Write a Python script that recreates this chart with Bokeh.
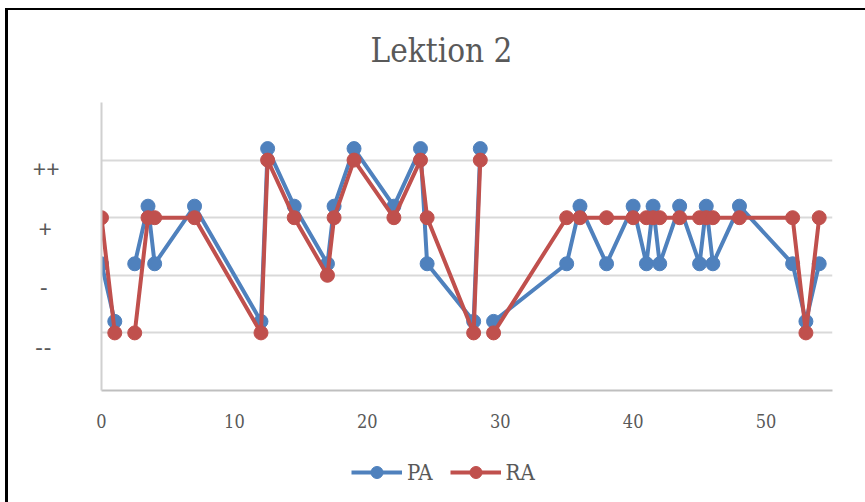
import math
from bokeh.plotting import figure
from bokeh.layouts import column
from bokeh.models import FixedTicker, Legend, LegendItem, ColumnDataSource
from bokeh.embed import file_html
from bokeh.resources import INLINE

NAN = float("nan")

# time positions (NaN rows mark missing observations -> gaps in the lines)
x_vals = [0, 1, 2, 2.5, 3.5, 4, 7, 12, 12.5, 14.5, 17, 17.5, 19, 22, 24, 24.5, 28, 28.5, 29,
          29.5, 35, 36, 38, 40, 41, 41.5, 42, 43.5, 45, 45.5, 46, 48, 52, 53, 54]
pa_vals = [2.2, 1.2, NAN, 2.2, 3.2, 2.2, 3.2, 1.2, 4.2, 3.2, 2.2, 3.2, 4.2, 3.2, 4.2, 2.2, 1.2, 4.2, NAN,
           1.2, 2.2, 3.2, 2.2, 3.2, 2.2, 3.2, 2.2, 3.2, 2.2, 3.2, 2.2, 3.2, 2.2, 1.2, 2.2]
ra_vals = [3, 1, NAN, 1, 3, 3, 3, 1, 4, 3, 2, 3, 4, 3, 4, 3, 1, 4, NAN,
           1, 3, 3, 3, 3, 3, 3, 3, 3, 3, 3, 3, 3, 3, 1, 3]

x_ticks = [0, 10, 20, 30, 40, 50]
y_label_pos = [3.87, 2.82, 1.80, 0.75]
y_labels = ["++", "+\u2006\u2006", "-\u2002", "--\u2006\u2006"]
grid_levels = [1, 2, 3, 4, 5]
series_names = ["PA", "RA"]

BLUE = "#4F81BD"
RED = "#C0504D"
SERIF = '"DejaVu Serif Condensed", "Liberation Serif", serif'
GREY_TEXT = "#595959"

src = ColumnDataSource(dict(x=x_vals, pa=pa_vals, ra=ra_vals))

p = figure(width=857, height=444, x_range=(0, 55), y_range=(0, 5),
           output_backend="svg", toolbar_location=None,
           min_border_left=93, min_border_right=33, min_border_top=106, min_border_bottom=50)
p.margin = (-14, 0, 0, 0)
p.outline_line_color = None
p.border_fill_color = None

p.title.text = "Lektion 2"
p.title.align = "left"
p.title.offset = 269
p.title.text_font = SERIF
p.title.text_font_size = "33px"
p.title.text_font_style = "normal"
p.title.text_color = GREY_TEXT
p.title.standoff = 65

p.line("x", "pa", source=src, line_color=BLUE, line_width=4)
p.scatter("x", "pa", source=src, size=14, fill_color=BLUE, line_color=BLUE)
p.line("x", "ra", source=src, line_color=RED, line_width=4)
p.scatter("x", "ra", source=src, size=14, fill_color=RED, line_color=RED)

# x axis
p.xaxis.ticker = FixedTicker(ticks=x_ticks)
p.xaxis.major_tick_line_color = None
p.xaxis.minor_tick_line_color = None
p.xaxis.axis_line_color = "#bfbfbf"
p.xaxis.axis_line_width = 2
p.xaxis.major_label_text_font = SERIF
p.xaxis.major_label_text_font_size = "18px"
p.xaxis.major_label_text_color = GREY_TEXT
p.xaxis.major_label_standoff = 17
p.xgrid.grid_line_color = None

# y axis
p.yaxis.ticker = FixedTicker(ticks=y_label_pos)
p.yaxis.major_label_overrides = {t: l for t, l in zip(y_label_pos, y_labels)}
p.yaxis.major_tick_line_color = None
p.yaxis.minor_tick_line_color = None
p.yaxis.axis_line_color = "#d0d0d0"
p.yaxis.axis_line_width = 2
p.yaxis.major_label_text_font = "Lato"
p.yaxis.major_label_text_font_size = "23px"
p.yaxis.major_label_text_color = GREY_TEXT
p.yaxis.major_label_standoff = 36
p.ygrid.ticker = FixedTicker(ticks=grid_levels)
p.ygrid.grid_line_color = "#d9d9d9"
p.ygrid.grid_line_width = 2

# legend strip below the chart (series drawn outside its visible range; only the legend shows)
lf = figure(width=857, height=62, x_range=(0, 55), y_range=(10, 11), title=None,
            output_backend="svg", toolbar_location=None,
            min_border_left=0, min_border_right=0, min_border_top=0, min_border_bottom=0,
            x_axis_type=None, y_axis_type=None)
lf.outline_line_color = None
lf.border_fill_color = None
lf.grid.visible = False
lb_line = lf.line("x", "pa", source=src, line_color=BLUE, line_width=4)
lb_pts = lf.scatter("x", "pa", source=src, size=13, fill_color=BLUE, line_color=BLUE)
lr_line = lf.line("x", "ra", source=src, line_color=RED, line_width=4)
lr_pts = lf.scatter("x", "ra", source=src, size=13, fill_color=RED, line_color=RED)

legend = Legend(items=[LegendItem(label=series_names[0], renderers=[lb_line, lb_pts]),
                       LegendItem(label=series_names[1], renderers=[lr_line, lr_pts])],
                orientation="horizontal", location=(250, 15))
legend.label_text_font = SERIF
legend.label_text_font_size = "22px"
legend.label_text_color = GREY_TEXT
legend.glyph_width = 51
legend.glyph_height = 30
legend.label_standoff = 5
legend.spacing = 17
legend.padding = 5
legend.margin = 0
legend.border_line_color = None
legend.background_fill_alpha = 0
lf.add_layout(legend)

layout = column(p, lf, spacing=0)
layout.margin = (8, 0, 0, 5)
layout.styles = {"border-left": "3px solid black", "border-top": "2px solid black"}

open("out.html", "w").write(file_html(layout, INLINE))
